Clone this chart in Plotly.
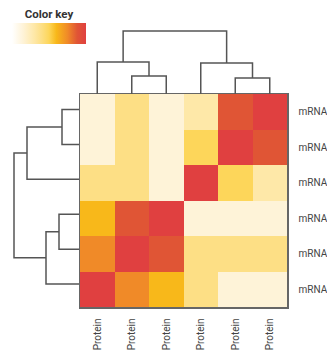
import plotly.graph_objects as go

W, H = 327, 351

# ---- data ----
col_labels = ["Protein"] * 6
row_labels = ["mRNA"] * 6
values = [
    [0.15, 0.40, 0.15, 0.30, 0.88, 1.00],
    [0.15, 0.40, 0.15, 0.50, 1.00, 0.88],
    [0.40, 0.40, 0.15, 1.00, 0.50, 0.30],
    [0.60, 0.88, 1.00, 0.15, 0.15, 0.15],
    [0.75, 1.00, 0.88, 0.40, 0.40, 0.40],
    [1.00, 0.75, 0.60, 0.40, 0.15, 0.15],
]
# dendrogram links: (child_a, child_b, merge height); leaves 0..5, new clusters 6+
col_links = [(1, 2, 1.8), (0, 6, 3.2), (4, 5, 1.6), (3, 8, 3.1), (7, 9, 6.3)]
row_links = [(0, 1, 1.7), (2, 6, 5.2), (3, 4, 2.0), (5, 8, 3.3), (7, 9, 6.5)]

colorscale = [
    [0.00, "#FFFFFF"],
    [0.15, "#FEF3D8"],
    [0.30, "#FEE8A8"],
    [0.40, "#FDDF85"],
    [0.50, "#FDD65A"],
    [0.60, "#F8B81A"],
    [0.75, "#F08A28"],
    [0.88, "#E05535"],
    [1.00, "#E04040"],
]


def dendro_segments(links, n):
    pos = {i: float(i) for i in range(n)}
    hgt = {i: 0.0 for i in range(n)}
    xs, ys = [], []
    nid = n
    for a, b, h in links:
        xs += [pos[a], pos[a], pos[b], pos[b], None]
        ys += [hgt[a], h, h, hgt[b], None]
        pos[nid] = (pos[a] + pos[b]) / 2
        hgt[nid] = h
        nid += 1
    return xs, ys


def fx(px):
    return px / W


def fy(px):
    return 1 - px / H


fig = go.Figure()

fig.add_trace(go.Heatmap(
    z=values, x=list(range(6)), y=list(range(6)),
    colorscale=colorscale, zmin=0, zmax=1,
    xaxis="x", yaxis="y",
    hoverinfo="skip",
    colorbar=dict(
        orientation="h",
        x=fx(12), xanchor="left", y=fy(44), yanchor="bottom",
        len=74, lenmode="pixels", thickness=21, thicknessmode="pixels",
        xpad=0, ypad=0, outlinewidth=0, showticklabels=False, ticks="",
        title=dict(text="<b>Color key</b>", side="top",
                   font=dict(size=11.5, color="#333333", family="Roboto")),
    ),
))

cx, cy = dendro_segments(col_links, 6)
fig.add_trace(go.Scatter(x=cx, y=cy, mode="lines", xaxis="x", yaxis="y2",
                         line=dict(color="#555555", width=1.5), hoverinfo="skip",
                         showlegend=False))
rx, ry = dendro_segments(row_links, 6)
fig.add_trace(go.Scatter(x=ry, y=rx, mode="lines", xaxis="x3", yaxis="y3",
                         line=dict(color="#555555", width=1.5), hoverinfo="skip",
                         showlegend=False))

tickfont = dict(size=10, color="#444444", family="Roboto")
fig.update_layout(
    width=W, height=H,
    margin=dict(l=0, r=0, t=0, b=0, autoexpand=False),
    paper_bgcolor="white", plot_bgcolor="white",
    showlegend=False,
    xaxis=dict(domain=[fx(80), fx(287)], range=[-0.5, 5.5], automargin=False,
               tickvals=list(range(6)), ticktext=col_labels, tickangle=-90,
               tickfont=tickfont, ticks="outside", ticklen=6,
               tickcolor="rgba(0,0,0,0)", showgrid=False, zeroline=False,
               showline=True, linecolor="#666666", linewidth=1.5, mirror=True),
    yaxis=dict(domain=[fy(307), fy(94)], range=[5.5, -0.5], side="right",
               automargin=False,
               tickvals=list(range(6)), ticktext=row_labels,
               tickfont=tickfont, ticks="outside", ticklen=8,
               tickcolor="rgba(0,0,0,0)", showgrid=False, zeroline=False,
               showline=True, linecolor="#666666", linewidth=1.5, mirror=True),
    yaxis2=dict(domain=[fy(94), fy(24)], range=[0, 7], anchor="x",
                visible=False),
    xaxis3=dict(domain=[fx(9), fx(79)], range=[7, 0], anchor="y3",
                visible=False),
    yaxis3=dict(domain=[fy(301.5), fy(92)], range=[5.5, -0.5], anchor="x3",
                visible=False),
)

fig.write_html("out.html",
               config={"displayModeBar": False, "staticPlot": True},
               post_script="document.body.style.margin='0';"
                           "document.body.style.overflow='hidden';")
